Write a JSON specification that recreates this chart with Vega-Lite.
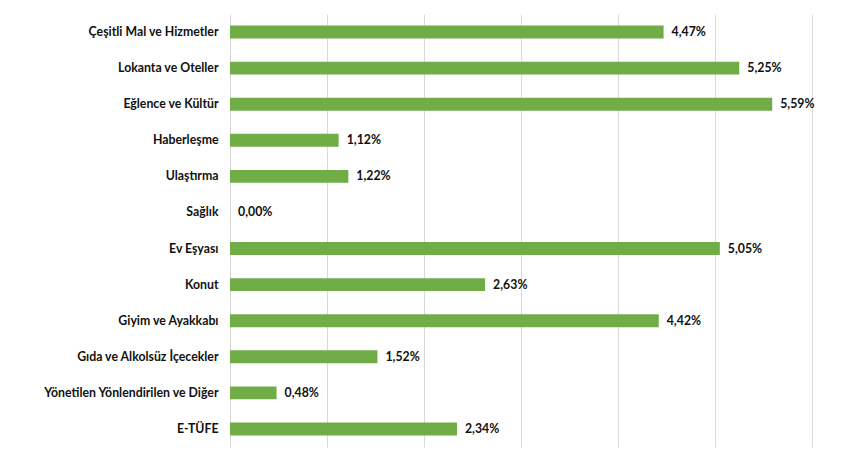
{
  "$schema": "https://vega.github.io/schema/vega-lite/v6.json",
  "width": 582,
  "height": 433,
  "autosize": {"type": "none"},
  "padding": {"left": 230, "top": 14, "right": 38, "bottom": 6},
  "background": "white",
  "data": {
    "values": [
      {"kategori": "Çeşitli Mal ve Hizmetler", "deger": 4.47, "etiket": "4,47%"},
      {"kategori": "Lokanta ve Oteller", "deger": 5.25, "etiket": "5,25%"},
      {"kategori": "Eğlence ve Kültür", "deger": 5.59, "etiket": "5,59%"},
      {"kategori": "Haberleşme", "deger": 1.12, "etiket": "1,12%"},
      {"kategori": "Ulaştırma", "deger": 1.22, "etiket": "1,22%"},
      {"kategori": "Sağlık", "deger": 0.0, "etiket": "0,00%"},
      {"kategori": "Ev Eşyası", "deger": 5.05, "etiket": "5,05%"},
      {"kategori": "Konut", "deger": 2.63, "etiket": "2,63%"},
      {"kategori": "Giyim ve Ayakkabı\u2007\u2007", "deger": 4.42, "etiket": "4,42%"},
      {"kategori": "Gıda ve Alkolsüz İçecekler", "deger": 1.52, "etiket": "1,52%"},
      {"kategori": "Yönetilen Yönlendirilen ve Diğer", "deger": 0.48, "etiket": "0,48%"},
      {"kategori": "E-TÜFE", "deger": 2.34, "etiket": "2,34%"}
    ]
  },
  "encoding": {
    "y": {
      "field": "kategori",
      "type": "nominal",
      "sort": null,
      "scale": {"paddingInner": 0.64, "paddingOuter": 0.32},
      "axis": {
        "title": null,
        "domain": false,
        "ticks": false,
        "labelPadding": 12,
        "labelFont": "Lato",
        "labelFontWeight": "bold",
        "labelFontSize": 12.3,
        "labelColor": "#111111",
        "labelLimit": 300
      }
    },
    "x": {
      "field": "deger",
      "type": "quantitative",
      "scale": {"domain": [0, 6], "nice": false},
      "axis": {
        "title": null,
        "labels": false,
        "ticks": false,
        "domain": false,
        "values": [0, 1, 2, 3, 4, 5, 6],
        "grid": true,
        "gridColor": "#d9d9d9",
        "gridWidth": 1
      }
    }
  },
  "layer": [
    {"mark": {"type": "bar", "color": "#70ad47"}},
    {
      "mark": {"type": "text", "align": "left", "baseline": "middle", "dx": 8, "font": "Lato", "fontWeight": "bold", "fontSize": 12.3, "color": "#111111"},
      "encoding": {"text": {"field": "etiket"}}
    }
  ],
  "config": {"view": {"stroke": null}}
}
